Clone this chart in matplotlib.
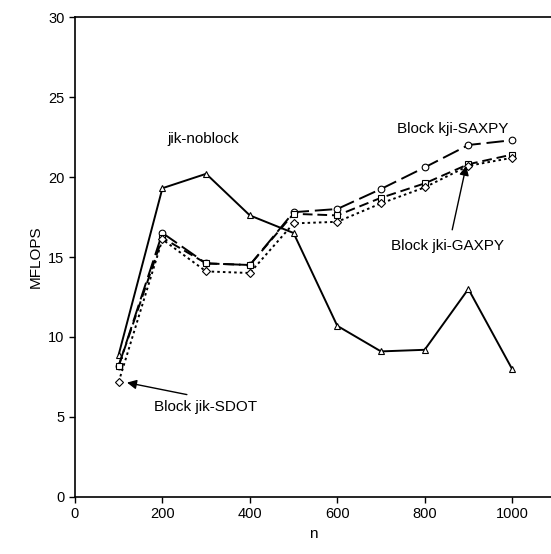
import matplotlib.pyplot as plt

plt.rcParams['font.family'] = ['Liberation Sans', 'DejaVu Sans']

# problem sizes
n = [100, 200, 300, 400, 500, 600, 700, 800, 900, 1000]

# MFLOPS for each variant
noblock = [8.9, 19.3, 20.2, 17.6, 16.5, 10.7, 9.1, 9.2, 13.0, 8.0]
saxpy = [8.2, 16.5, 14.6, 14.5, 17.8, 18.0, 19.25, 20.6, 22.0, 22.3]
gaxpy = [8.2, 16.2, 14.6, 14.5, 17.7, 17.6, 18.7, 19.6, 20.8, 21.4]
sdot = [7.2, 16.1, 14.1, 14.0, 17.1, 17.2, 18.35, 19.35, 20.7, 21.2]

fig = plt.figure(figsize=(5.51, 5.54), dpi=100)
ax = fig.add_axes([0.1361, 0.1029, 0.8639, 0.8664])

mk = dict(markerfacecolor='white', markeredgecolor='black', markeredgewidth=0.8,
          color='black')

ax.plot(n, noblock, '-', marker='^', lw=1.4, markersize=4.5, **mk)
ax.plot(n, saxpy, marker='o', lw=1.4, markersize=4.8, dashes=(9, 3), **mk)
ax.plot(n, gaxpy, marker='s', lw=1.4, markersize=4.3, dashes=(5, 2.5), **mk)
ax.plot(n, sdot, marker='D', lw=1.4, markersize=4.0, dashes=(1.3, 1.6), **mk)

ax.set_xlim(0, 1089)
ax.set_ylim(0, 30)
ax.set_xticks(range(0, 1001, 200))
ax.set_yticks(range(0, 31, 5))
ax.tick_params(direction='out', length=4, width=1, labelsize=10.5, colors='black')
ax.spines['right'].set_visible(False)
for s in ['left', 'bottom', 'top']:
    ax.spines[s].set_linewidth(1.2)

ax.set_xlabel('n', fontsize=11)
ax.set_ylabel('MFLOPS', fontsize=11, labelpad=4)

arrow = dict(arrowstyle='-|>', color='black', lw=1, shrinkA=0, shrinkB=0,
             mutation_scale=14)

ax.text(293, 22.4, 'jik-noblock', fontsize=11, ha='center', va='center')
ax.text(865, 23.0, 'Block kji-SAXPY', fontsize=11, ha='center', va='center')

ax.text(853, 15.7, 'Block jki-GAXPY', fontsize=11, ha='center', va='center')
ax.annotate('', xy=(895, 20.7), xytext=(863, 16.7), arrowprops=arrow)

ax.text(299, 5.6, 'Block jik-SDOT', fontsize=11, ha='center', va='center')
ax.annotate('', xy=(119, 7.15), xytext=(256, 6.4), arrowprops=arrow)

fig.savefig('out.png', dpi=100)
